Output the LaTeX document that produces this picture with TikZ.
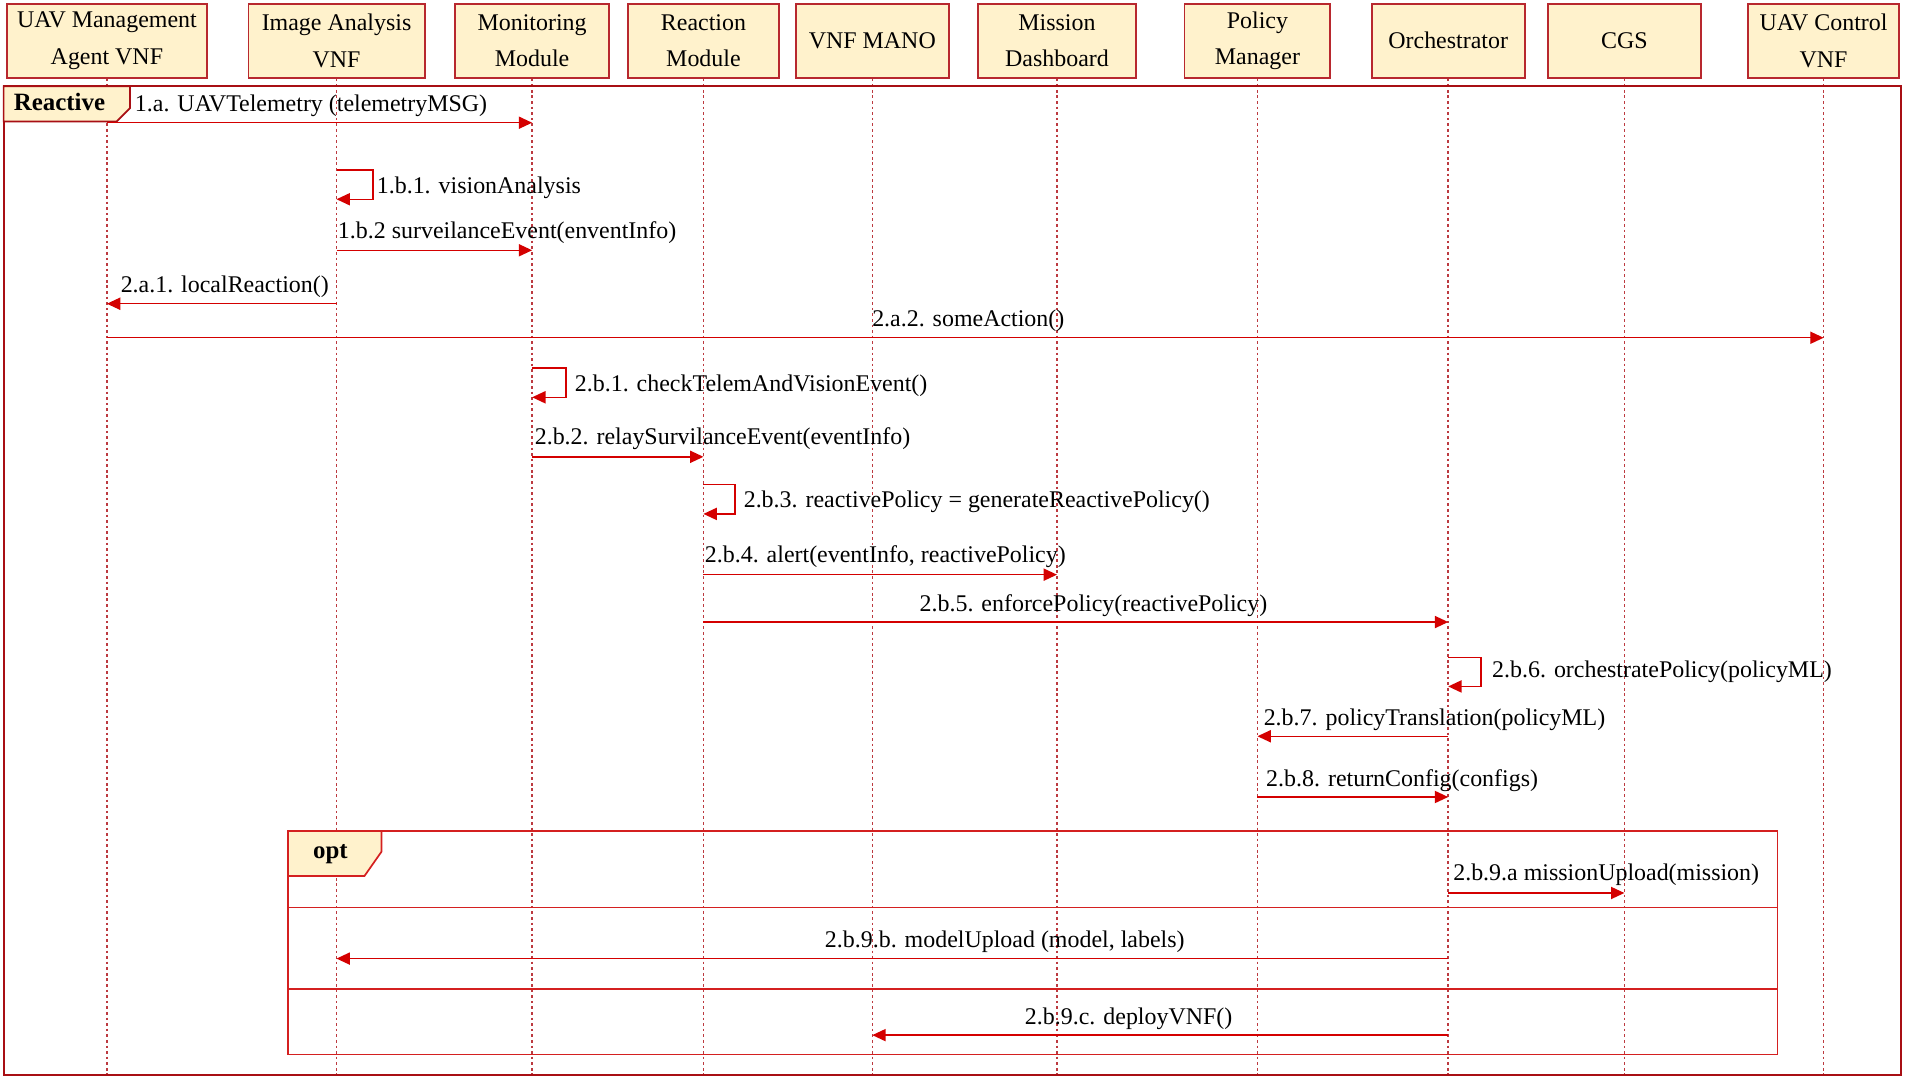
\documentclass[tikz,border=0pt]{standalone}
\usepackage{fontspec}
\setmainfont{Liberation Serif}
\usetikzlibrary{arrows.meta}
\definecolor{boxfill}{HTML}{FFF2CC}
\definecolor{boxdraw}{HTML}{B8282E}
\definecolor{lifec}{HTML}{BC3A40}
\definecolor{msgc}{HTML}{D40000}
\definecolor{framec}{HTML}{A80F14}
\definecolor{optc}{HTML}{D42020}
\begin{document}
\begin{tikzpicture}[x=1pt,y=-1pt,
  font=\fontsize{19.7}{30}\selectfont,
  hbox/.style={draw=boxdraw, fill=boxfill, line width=1.5pt, align=center, inner sep=0pt, minimum height=61pt},
  life/.style={draw=lifec, line width=1.3pt, dash pattern=on 2.2pt off 2.4pt},
  msg/.style={draw=msgc, line width=1.2pt, -{Triangle[length=11pt,width=10pt]}},
  lbl/.style={inner sep=0pt, anchor=base},
  lblw/.style={inner sep=0pt, anchor=base west},
  tagbox/.style={draw=optc, line width=1.4pt, fill=boxfill},
  tagtext/.style={inner sep=0pt, font=\fontsize{20.5}{24}\selectfont\bfseries}]
\useasboundingbox (0,0) rectangle (1568,889);
% header boxes
\node[hbox, minimum width=165pt] (h1) at (88,33.5) {UAV Management\\Agent VNF};
\node[hbox, minimum width=145pt] (h2) at (277,33.5) {Image Analysis\\VNF};
\node[hbox, minimum width=127pt] (h3) at (438,33.5) {Monitoring\\Module};
\node[hbox, minimum width=124pt] (h4) at (579,33.5) {Reaction\\Module};
\node[hbox, minimum width=126pt] (h5) at (718,33.5) {VNF MANO};
\node[hbox, minimum width=130pt] (h6) at (870,33.5) {Mission\\Dashboard};
\node[hbox, minimum width=120pt] (h7) at (1035,33.5) {Policy\\Manager};
\node[hbox, minimum width=126pt] (h8) at (1192,33.5) {Orchestrator};
\node[hbox, minimum width=126pt] (h9) at (1337,33.5) {CGS};
\node[hbox, minimum width=124pt] (h10) at (1501,33.5) {UAV Control\\VNF};
\coordinate (bot) at (0,885);
\foreach \n in {1,...,10} \draw[life] (h\n.south) -- (h\n.south |- bot);
% outer frame
\draw[framec, line width=1.6pt] (3,71) rectangle (1565,885);
\draw[tagbox, draw=framec] (3,71) -- (107,71) -- (107,89) -- (96,100) -- (3,100) -- cycle;
\node[tagtext] (reactive) at (49,84) {Reactive};
% opt frame
\draw[optc, line width=1.3pt] (237,684) rectangle (1463,868);
\draw[optc, line width=1.2pt] (237,747) -- (1463,747);
\draw[optc, line width=1.2pt] (237,814) -- (1463,814);
\draw[tagbox] (237,684) -- (314,684) -- (314,701) -- (300,721) -- (237,721) -- cycle;
\node[tagtext] (opt) at (272,703) {opt};
% rows
\coordinate (r1) at (0,101);
\coordinate (r2) at (0,140);
\coordinate (r3) at (0,206);
\coordinate (r4) at (0,250);
\coordinate (r5) at (0,278);
\coordinate (r6) at (0,303);
\coordinate (r7) at (0,376);
\coordinate (r8) at (0,399);
\coordinate (r9) at (0,473);
\coordinate (r10) at (0,512);
\coordinate (r11) at (0,541);
\coordinate (r12) at (0,606);
\coordinate (r13) at (0,656);
\coordinate (r14) at (0,735);
\coordinate (r15) at (0,789);
\coordinate (r16) at (0,852);
% messages
\draw[msg] (h1 |- r1) -- (h3 |- r1);
\node[lbl] (t1) at (256,92) {1.a. UAVTelemetry (telemetryMSG)};
\draw[msg] (h2 |- r2) -- ++(30,0) -- ++(0,24) -- ++(-30,0);
\node[lblw] (t2) at (310,159) {1.b.1. visionAnalysis};
\draw[msg] (h2 |- r3) -- (h3 |- r3);
\node[lblw] (t3) at (278,196) {1.b.2 surveilanceEvent(enventInfo)};
\draw[msg] (h2 |- r4) -- (h1 |- r4);
\node[lbl] (t4) at (185,241) {2.a.1. localReaction()};
\draw[msg] (h1 |- r5) -- (h10 |- r5);
\node[lbl] (t5) at (797,269) {2.a.2. someAction()};
\draw[msg] (h3 |- r6) -- ++(28,0) -- ++(0,24) -- ++(-28,0);
\node[lblw] (t6) at (473,322) {2.b.1. checkTelemAndVisionEvent()};
\draw[msg] (h3 |- r7) -- (h4 |- r7);
\node[lblw] (t7) at (440,366) {2.b.2. relaySurvilanceEvent(eventInfo)};
\draw[msg] (h4 |- r8) -- ++(26,0) -- ++(0,24) -- ++(-26,0);
\node[lblw] (t8) at (612,418) {2.b.3. reactivePolicy = generateReactivePolicy()};
\draw[msg] (h4 |- r9) -- (h6 |- r9);
\node[lblw] (t9) at (580,463) {2.b.4. alert(eventInfo, reactivePolicy)};
\draw[msg] (h4 |- r10) -- (h8 |- r10);
\node[lbl] (t10) at (900,503) {2.b.5. enforcePolicy(reactivePolicy)};
\draw[msg] (h8 |- r11) -- ++(27,0) -- ++(0,24) -- ++(-27,0);
\node[lblw] (t11) at (1228,558) {2.b.6. orchestratePolicy(policyML)};
\draw[msg] (h8 |- r12) -- (h7 |- r12);
\node[lblw] (t12) at (1040,597) {2.b.7. policyTranslation(policyML)};
\draw[msg] (h7 |- r13) -- (h8 |- r13);
\node[lblw] (t13) at (1042,647) {2.b.8. returnConfig(configs)};
\draw[msg] (h8 |- r14) -- (h9 |- r14);
\node[lblw] (t14) at (1196,725) {2.b.9.a missionUpload(mission)};
\draw[msg] (h8 |- r15) -- (h2 |- r15);
\node[lbl] (t15) at (827,780) {2.b.9.b. modelUpload (model, labels)};
\draw[msg] (h8 |- r16) -- (h5 |- r16);
\node[lbl] (t16) at (929,843) {2.b.9.c. deployVNF()};
\end{tikzpicture}
\end{document}
